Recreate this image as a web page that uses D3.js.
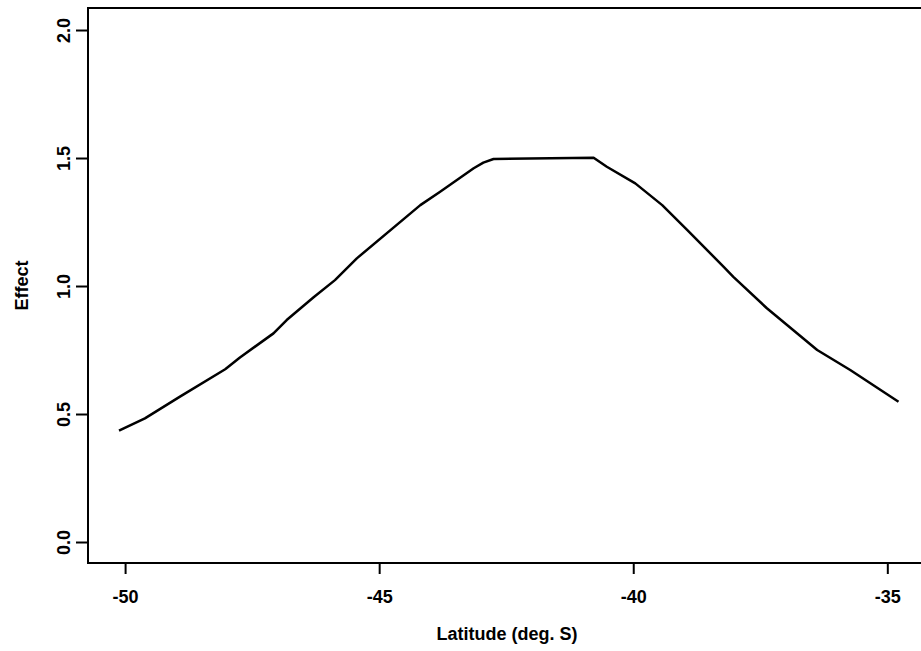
<!DOCTYPE html>
<html>
<head>
<meta charset="utf-8">
<script src="https://cdn.jsdelivr.net/npm/d3@7"></script>
<style>
  body { margin: 0; background: #fff; }
  text { font-family: "Liberation Sans", Arial, sans-serif; font-weight: bold; fill: #000; }
</style>
</head>
<body>
<div id="chart"></div>
<script>
var width = 921;
var height = 651;

// curve: latitude (deg. S) vs effect
var latitude = [-50.12, -49.61, -48.92, -48.03, -47.74, -47.08, -46.82, -46.29, -45.87, -45.44,
                -44.19, -43.80, -43.14, -42.95, -42.75, -40.78, -40.52, -39.96, -39.43, -38.94,
                -38.22, -38.03, -37.37, -36.38, -35.73, -34.78];
var effect = [0.435, 0.483, 0.568, 0.675, 0.721, 0.815, 0.867, 0.956, 1.023, 1.108,
              1.316, 1.368, 1.460, 1.482, 1.496, 1.501, 1.466, 1.401, 1.316, 1.219,
              1.075, 1.036, 0.913, 0.750, 0.672, 0.548];

var xTicks = [-50, -45, -40, -35];
var yTicks = [0.0, 0.5, 1.0, 1.5, 2.0];
var xTitle = "Latitude (deg. S)";
var yTitle = "Effect";

var box = {left: 88, top: 8, right: 930, bottom: 563};

var x = d3.scaleLinear().domain([-50.73, -34.16]).range([box.left, box.right]);
var y = d3.scaleLinear().domain([-0.082, 2.086]).range([box.bottom, box.top]);

var svg = d3.select("#chart").append("svg")
    .attr("width", width)
    .attr("height", height);

// plot frame
svg.append("rect")
    .attr("x", box.left).attr("y", box.top)
    .attr("width", box.right - box.left).attr("height", box.bottom - box.top)
    .attr("fill", "none").attr("stroke", "#000").attr("stroke-width", 2);

// x axis: ticks and labels (plain hyphen, not unicode minus)
var xAxis = d3.axisBottom(x).tickValues(xTicks).tickSize(11).tickSizeOuter(0)
    .tickFormat(function(d) { return String(d); });
var gx = svg.append("g").attr("transform", "translate(0," + box.bottom + ")").call(xAxis);
gx.select(".domain").remove();
gx.selectAll("line").attr("stroke", "#000").attr("stroke-width", 2);
gx.selectAll("text").attr("font-size", 18).attr("dy", null).attr("y", 40)
    .style("font-family", "Liberation Sans, Arial, sans-serif").style("font-weight", "bold");

// y axis: ticks and rotated labels
var yAxis = d3.axisLeft(y).tickValues(yTicks).tickSize(12).tickSizeOuter(0)
    .tickFormat(d3.format(".1f"));
var gy = svg.append("g").attr("transform", "translate(" + box.left + ",0)").call(yAxis);
gy.select(".domain").remove();
gy.selectAll("line").attr("stroke", "#000").attr("stroke-width", 2);
gy.selectAll("text")
    .attr("x", null).attr("dy", null)
    .attr("text-anchor", "middle")
    .attr("font-size", 18)
    .style("font-family", "Liberation Sans, Arial, sans-serif").style("font-weight", "bold")
    .attr("transform", "translate(-18,0) rotate(-90)");

// axis titles
svg.append("text")
    .attr("x", 507).attr("y", 640)
    .attr("text-anchor", "middle")
    .attr("font-size", 18)
    .text(xTitle);

svg.append("text")
    .attr("transform", "translate(28," + ((box.top + box.bottom) / 2) + ") rotate(-90)")
    .attr("text-anchor", "middle")
    .attr("font-size", 18)
    .text(yTitle);

// the curve
var pts = latitude.map(function(d, i) { return [d, effect[i]]; });
var line = d3.line()
    .x(function(d) { return x(d[0]); })
    .y(function(d) { return y(d[1]); });

svg.append("path")
    .datum(pts)
    .attr("d", line)
    .attr("fill", "none")
    .attr("stroke", "#000")
    .attr("stroke-width", 2.5)
    .attr("stroke-linejoin", "round");
</script>
</body>
</html>
